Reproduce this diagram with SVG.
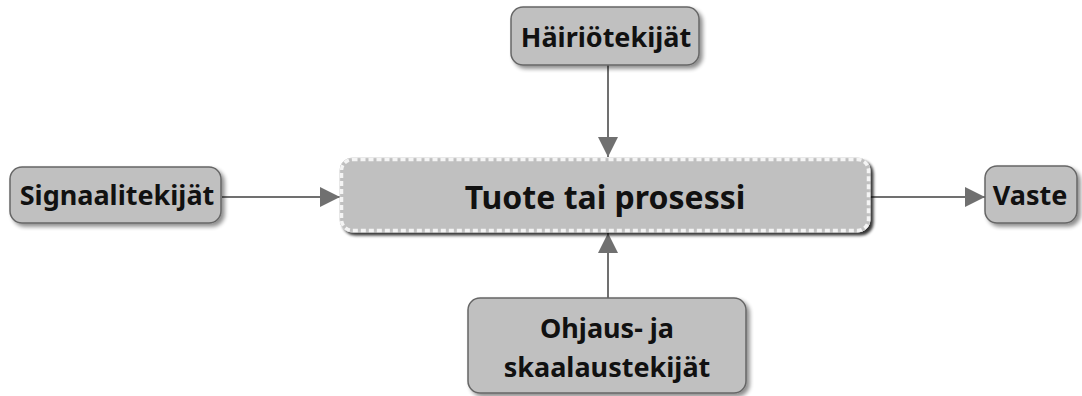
<svg xmlns="http://www.w3.org/2000/svg" width="1082" height="396" viewBox="0 0 1082 396">
<defs>
<filter id="sh" x="-10%" y="-20%" width="130%" height="150%">
<feGaussianBlur in="SourceAlpha" stdDeviation="2"/>
<feOffset dx="3" dy="3" result="b"/>
<feComponentTransfer><feFuncA type="linear" slope="0.45"/></feComponentTransfer>
<feMerge><feMergeNode/><feMergeNode in="SourceGraphic"/></feMerge>
</filter>
<filter id="sh2" x="-10%" y="-20%" width="130%" height="150%">
<feGaussianBlur in="SourceAlpha" stdDeviation="1.5"/>
<feOffset dx="3" dy="3" result="b"/>
<feComponentTransfer><feFuncA type="linear" slope="0.8"/></feComponentTransfer>
<feMerge><feMergeNode/><feMergeNode in="SourceGraphic"/></feMerge>
</filter>
<marker id="ah" markerWidth="20" markerHeight="20" refX="20" refY="10" orient="auto" markerUnits="userSpaceOnUse">
<path d="M0,0 L20,10 L0,20 Z" fill="#707070"/>
</marker>
</defs>
<style>
.box{fill:#c0c0c0;stroke:#666;stroke-width:1.5}
.main{fill:#c0c0c0;stroke:#ccc;stroke-width:1}
.dots{fill:none;stroke:#f4f4f4;stroke-width:3.5;stroke-dasharray:5 3}
.t{font-family:"Noto Sans","Open Sans",sans-serif;font-weight:bold;fill:#111;text-anchor:middle}
.c{stroke:#707070;stroke-width:2;fill:none}
</style>
<rect width="1082" height="396" fill="#fff"/>
<g id="connectors">
<line class="c" x1="222" y1="197" x2="340" y2="197" marker-end="url(#ah)"/>
<line class="c" x1="608" y1="65" x2="608" y2="157" marker-end="url(#ah)"/>
<line class="c" x1="608" y1="298" x2="608" y2="233" marker-end="url(#ah)"/>
<line class="c" x1="870" y1="197" x2="985" y2="197" marker-end="url(#ah)"/>
</g>
<g id="main">
<rect class="main" x="340" y="158" width="530" height="74" rx="12" filter="url(#sh2)"/>
<rect class="dots" x="341.5" y="159.5" width="527" height="71" rx="11"/>
<text class="t" x="605" y="209" font-size="32">Tuote tai prosessi</text>
</g>
<g id="signaali">
<rect class="box" x="10" y="167" width="211" height="56" rx="12" filter="url(#sh)"/>
<text class="t" x="117" y="205" font-size="27">Signaalitekijät</text>
</g>
<g id="hairio">
<rect class="box" x="511" y="7" width="188" height="58" rx="12" filter="url(#sh)"/>
<text class="t" x="606" y="47" font-size="27">Häiriötekijät</text>
</g>
<g id="ohjaus">
<rect class="box" x="468" y="298" width="278" height="95" rx="12" filter="url(#sh)"/>
<text class="t" x="607" y="338" font-size="27">Ohjaus- ja</text>
<text class="t" x="607" y="377" font-size="27">skaalaustekijät</text>
</g>
<g id="vaste">
<rect class="box" x="985" y="166" width="92" height="57" rx="12" filter="url(#sh)"/>
<text class="t" x="1030" y="205" font-size="27">Vaste</text>
</g>
</svg>
